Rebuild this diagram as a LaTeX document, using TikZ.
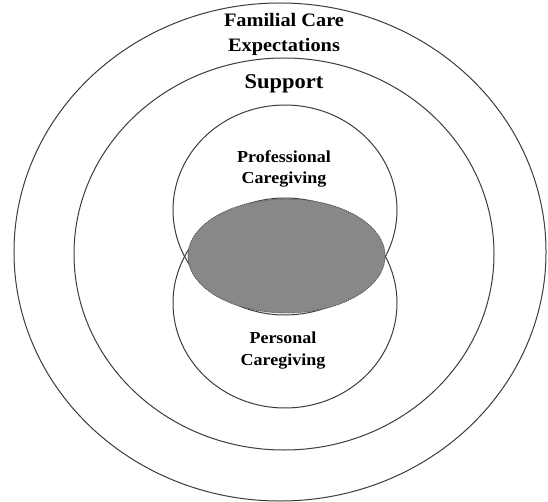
\documentclass[tikz,border=0pt]{standalone}
\usepackage{fontspec}
\setmainfont{Liberation Serif}
\usetikzlibrary{shapes.geometric}
\definecolor{ringline}{RGB}{60,60,60}
\definecolor{overlapfill}{RGB}{136,136,136}
\definecolor{overlapline}{RGB}{90,90,90}
\begin{document}
\begin{tikzpicture}[x=1pt,y=-1pt,
  ring/.style={ellipse, draw=ringline, line width=1pt, inner sep=0pt},
  overlap/.style={ellipse, draw=overlapline, fill=overlapfill, line width=0.9pt, dash pattern=on 1.2pt off 0.8pt, inner sep=0pt},
  lbl/.style={font=\bfseries, align=center, anchor=base, inner sep=0pt, transform shape, xscale=1.07}]
\useasboundingbox (0,0) rectangle (548,502);
\fill[white] (0,0) rectangle (548,502);
\node[ring, minimum width=532pt, minimum height=498pt] (outer) at (280,252) {};
\node[ring, minimum width=420pt, minimum height=392pt] (support) at (284,254) {};
\node[ring, minimum width=224pt, minimum height=210pt] (prof) at (285,210) {};
\node[ring, minimum width=224pt, minimum height=210pt] (pers) at (285,303) {};
\node[overlap, minimum width=197pt, minimum height=114pt] (both) at (286.5,256) {};
\node[lbl, font=\fontsize{19}{25}\selectfont\bfseries] (familial) at (284,52) {Familial Care\\Expectations};
\node[lbl, font=\fontsize{21}{25}\selectfont\bfseries] (supportlbl) at (284,89) {Support};
\node[lbl, font=\fontsize{16.8}{21.5}\selectfont\bfseries] (proflbl) at (284,184) {Professional\\Caregiving};
\node[lbl, font=\fontsize{16.8}{21.5}\selectfont\bfseries] (perslbl) at (283,365) {Personal\\Caregiving};
\end{tikzpicture}
\end{document}
